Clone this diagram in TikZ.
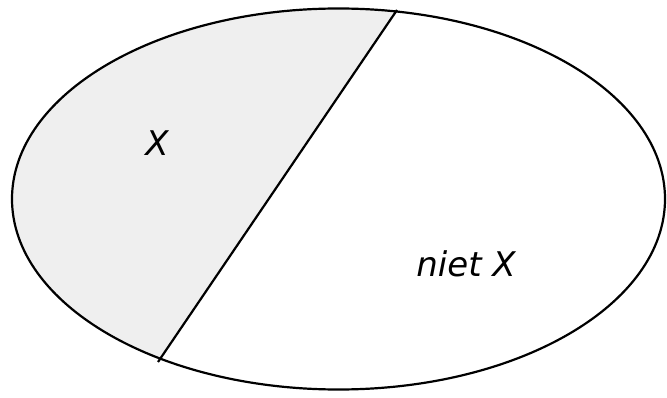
\documentclass[tikz,border=0pt]{standalone}
\usepackage{fontspec}
\setmainfont{DejaVu Sans}
\definecolor{regiongray}{HTML}{EFEFEF}
\tikzset{
  outline/.style={draw=black, line width=2.2pt},
  lbl/.style={font=\fontsize{34}{38}\selectfont\itshape, inner sep=0pt}
}
\begin{document}
\begin{tikzpicture}[x=1pt,y=-1pt]
\useasboundingbox (0,0) rectangle (667,398);
\coordinate (top) at (397,10);
\coordinate (bot) at (158,362);
\begin{scope}
  \clip (338.5,199) ellipse [x radius=326.5, y radius=190.5];
  \fill[regiongray] (421,-25) -- (134,397) -- (-10,400) -- (-10,-25) -- cycle;
\end{scope}
\draw[outline] (338.5,199) ellipse [x radius=326.5, y radius=190.5];
\draw[outline] (top) -- (bot);
\node[lbl] (x) at (157,143) {X};
\node[lbl] (nx) at (466,264) {niet X};
\end{tikzpicture}
\end{document}
